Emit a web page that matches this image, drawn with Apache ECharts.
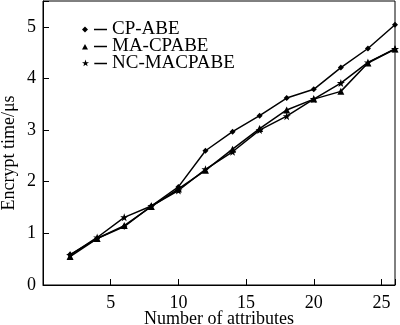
<!DOCTYPE html>
<html><head><meta charset="utf-8">
<script src="https://cdn.jsdelivr.net/npm/echarts@6/dist/echarts.min.js"></script>
<style>html,body{margin:0;padding:0;background:#fff}#c{width:400px;height:325px}</style>
</head><body><div id="c"></div>
<script>
const attributes = [2,4,6,8,10,12,14,16,18,20,22,24,26];
const cpAbe   = [0.59,0.90,1.13,1.53,1.90,2.60,2.97,3.28,3.62,3.79,4.21,4.58,5.04];
const maCpabe = [0.55,0.90,1.15,1.52,1.86,2.22,2.63,3.03,3.39,3.60,3.75,4.30,4.57];
const ncMacpabe=[0.58,0.92,1.31,1.53,1.83,2.24,2.58,3.00,3.27,3.60,3.91,4.31,4.57];
const seriesNames = ['CP-ABE','MA-CPABE','NC-MACPABE'];
const xName = 'Number of attributes';
const yName = 'Encrypt time/\u03bcs';

const font = '"Liberation Serif","Times New Roman",serif';
const pairs = a => attributes.map((x,i)=>[x,a[i]]);
const starPath = 'M3,0 L3.9,2.6 L6.6,2.6 L4.4,4.2 L5.2,6.9 L3,5.3 L0.8,6.9 L1.6,4.2 L-0.6,2.6 L2.1,2.6 Z';
const icons = [
  'path://M0,4 L3,1 L6,4 L3,7 Z M12,3.3 L25,3.3 L25,4.7 L12,4.7 Z M0,0 L0.01,0 M25,8 L25.01,8',
  'path://M0,7 L3,1.5 L6,7 Z M12,3.3 L25,3.3 L25,4.7 L12,4.7 Z M0,0 L0.01,0 M25,8 L25.01,8',
  'path://' + starPath + ' M12,3.3 L25,3.3 L25,4.7 L12,4.7 Z M0,0 L0.01,0 M25,8 L25.01,8'
];
const symbols = ['diamond','triangle','path://' + starPath];
const sizes = [6,7,8];
const datas = [cpAbe, maCpabe, ncMacpabe];

const chart = echarts.init(document.getElementById('c'), null, {renderer:'canvas'});
chart.setOption({
  animation:false,
  backgroundColor:'#fff',
  grid:{left:43,right:5,top:1,bottom:40,show:true,borderColor:'#000',borderWidth:1,backgroundColor:'transparent',
        containLabel:false, outerBoundsMode:'none'},
  legend:{
    orient:'vertical', left:77, top:15, itemGap:-2, itemWidth:25, itemHeight:8,
    data: seriesNames.map((n,i)=>({name:n, icon:icons[i]})),
    textStyle:{fontFamily:font,fontSize:19,color:'#000',lineHeight:18}
  },
  xAxis:{
    type:'value', min:0, max:26, interval:5,
    name:xName, nameLocation:'middle', nameGap:25, nameMoveOverlap:false,
    nameTextStyle:{fontFamily:font,fontSize:18,color:'#000'},
    axisLine:{lineStyle:{color:'#000',width:1}},
    axisTick:{inside:true,length:6,lineStyle:{color:'#000'}},
    axisLabel:{fontFamily:font,fontSize:18,color:'#000',margin:9,
      formatter:v=> (v===0||v===26)?'':String(v)},
    splitLine:{show:false}
  },
  yAxis:{
    type:'value', min:0, max:5.5, interval:1,
    name:yName, nameLocation:'middle', nameGap:25, nameMoveOverlap:false,
    nameTextStyle:{fontFamily:font,fontSize:18,color:'#000',padding:[0,0,0,-20]},
    axisLine:{lineStyle:{color:'#000',width:1}},
    axisTick:{inside:true,length:6,lineStyle:{color:'#000'}},
    axisLabel:{fontFamily:font,fontSize:18,color:'#000',margin:7,
      formatter:v=> Number.isInteger(v)?String(v):''},
    splitLine:{show:false}
  },
  series: seriesNames.map((n,i)=>({
    name:n, type:'line', data:pairs(datas[i]),
    symbol:symbols[i], symbolSize:sizes[i], showAllSymbol:true,
    lineStyle:{color:'#000',width:1.5},
    itemStyle:{color:'#000'},
    emphasis:{disabled:true}
  }))
});
</script></body></html>
